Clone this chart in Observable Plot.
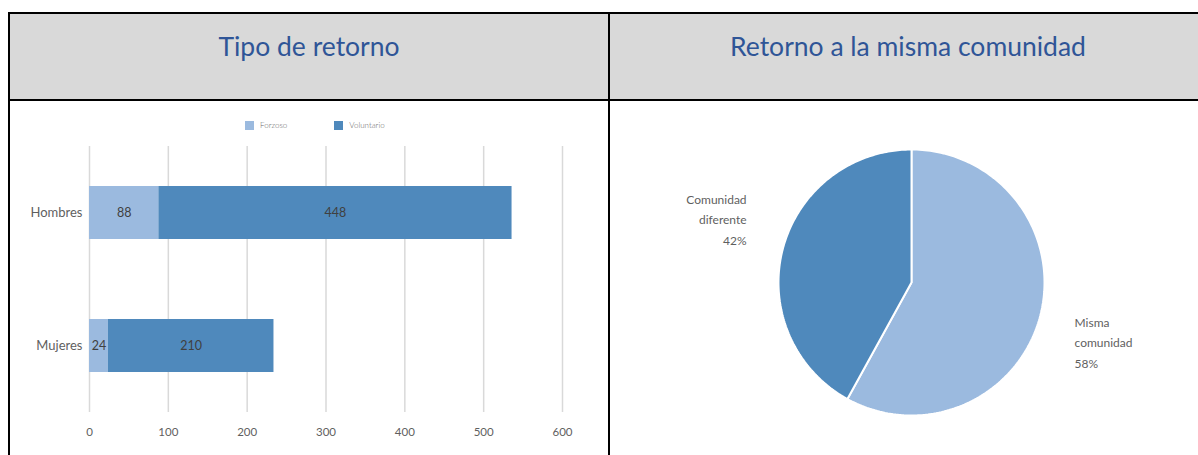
<!DOCTYPE html>
<html>
<head>
<meta charset="utf-8">
<script src="https://cdn.jsdelivr.net/npm/d3@7"></script>
<script src="https://cdn.jsdelivr.net/npm/@observablehq/plot@0.6"></script>
<style>
  body { margin: 0; background: #fff; overflow: hidden; font-family: Lato, "Open Sans", sans-serif; }
  #table { position: absolute; left: 8px; top: 12px; width: 1202px; border-top: 2px solid #000; border-left: 2px solid #000; }
  .row { display: flex; }
  .cell { width: 598px; position: relative; flex: none; }
  .cell + .cell { border-left: 2px solid #000; }
  .head { height: 85px; background: #D9D9D9; border-bottom: 2px solid #000; }
  .head .cell { text-align: center; color: #2F5597; font-size: 26.5px; line-height: 32px; padding-top: 16px; box-sizing: border-box; height: 85px; }
  .body .cell { height: 354px; }
  #legend { position: absolute; left: 235px; top: 19px; display: flex; align-items: center; font-size: 8px; color: #666; font-weight: 300; }
  #legend .sw { width: 9px; height: 9px; display: inline-block; margin-right: 6px; }
  #legend .item { display: flex; align-items: center; }
  #legend .item + .item { margin-left: 47px; }
  #barchart { position: absolute; left: 0; top: 37px; }
  #piechart { position: absolute; left: 0; top: 0; }
</style>
</head>
<body>
<div id="table">
  <div class="row head">
    <div class="cell" id="title1"></div>
    <div class="cell" id="title2"></div>
  </div>
  <div class="row body">
    <div class="cell" id="left"><div id="legend"></div><div id="barchart"></div></div>
    <div class="cell" id="right"><div id="piechart"></div></div>
  </div>
</div>
<script>
// ---- Data ----
const titles = ["Tipo de retorno", "Retorno a la misma comunidad"];
const categories = ["Hombres", "Mujeres"];
const types = ["Forzoso", "Voluntario"];
const forzoso = [88, 24];
const voluntario = [448, 210];
const xTicks = [0, 100, 200, 300, 400, 500, 600];
const pieLabels = ["Misma comunidad", "Comunidad diferente"];
const pieValues = [58, 42];

// ---- Styles ----
const colors = ["#9BBADF", "#4F89BC"];
const textGray = "#5f5f5f";

document.getElementById("title1").textContent = titles[0];
document.getElementById("title2").textContent = titles[1];

// Legend
const legend = document.getElementById("legend");
types.forEach((t, i) => {
  const item = document.createElement("div");
  item.className = "item";
  const sw = document.createElement("span");
  sw.className = "sw";
  sw.style.background = colors[i];
  item.appendChild(sw);
  item.appendChild(document.createTextNode(t));
  legend.appendChild(item);
});

// Bar chart
const rows = [];
categories.forEach((c, i) => {
  rows.push({cat: c, type: types[0], value: forzoso[i]});
  rows.push({cat: c, type: types[1], value: voluntario[i]});
});

const bar = Plot.plot({
  width: 598, height: 304,
  marginLeft: 79, marginRight: 46, marginTop: 8, marginBottom: 30,
  style: {fontFamily: "Lato, 'Open Sans', sans-serif", color: textGray, background: "transparent", overflow: "visible"},
  x: {domain: [0, 600], axis: null},
  y: {domain: categories, paddingInner: 0.6, paddingOuter: 0.3, axis: null},
  color: {domain: types, range: colors},
  marks: [
    Plot.gridX(xTicks, {stroke: "#D9D9D9", strokeOpacity: 1, strokeWidth: 1.5}),
    Plot.barX(rows, Plot.stackX({x: "value", y: "cat", z: "type", fill: "type"})),
    Plot.text(rows, Plot.stackX({x: "value", y: "cat", z: "type", text: d => String(d.value), fill: "#404040", fontSize: 12.5})),
    Plot.axisX(xTicks, {tickSize: 0, tickPadding: 15, label: null, fontSize: 11.5, fill: textGray}),
    Plot.axisY({tickSize: 0, tickPadding: 7, label: null, fontSize: 13, fill: textGray})
  ]
});
document.getElementById("barchart").appendChild(bar);

// Pie chart (polygons built from the values)
const pieRows = [];
let acc = 0;
const total = d3.sum(pieValues);
pieLabels.forEach((lab, i) => {
  const a0 = acc / total * 2 * Math.PI;
  acc += pieValues[i];
  const a1 = acc / total * 2 * Math.PI;
  pieRows.push({slice: lab, px: 0, py: 0});
  const n = 180;
  for (let k = 0; k <= n; k++) {
    const a = a0 + (a1 - a0) * k / n;
    pieRows.push({slice: lab, px: Math.sin(a), py: Math.cos(a)});
  }
  pieRows.push({slice: lab, px: 0, py: 0});
});

const labelPos = [
  {x: 1.226, y: -0.436, anchor: "start"},
  {x: -1.24, y: 0.489, anchor: "end"}
];
const pieText = pieLabels.map((lab, i) => ({
  text: lab.replace(" ", "\n") + "\n" + pieValues[i] + "%",
  x: labelPos[i].x, y: labelPos[i].y, anchor: labelPos[i].anchor
}));

const pie = Plot.plot({
  width: 598, height: 354,
  margin: 0,
  style: {fontFamily: "Lato, 'Open Sans', sans-serif", color: textGray, background: "transparent", overflow: "visible"},
  x: {domain: [-1, 1], range: [168, 434], axis: null},
  y: {domain: [-1, 1], range: [314, 48], axis: null},
  color: {domain: pieLabels, range: colors},
  marks: [
    Plot.line(pieRows, {x: "px", y: "py", z: "slice", fill: "slice", stroke: "#fff", strokeWidth: 2, strokeLinejoin: "miter"}),
    Plot.text(pieText.filter(d => d.anchor === "start"), {x: "x", y: "y", text: "text", textAnchor: "start", fontSize: 12, lineHeight: 1.71, fill: textGray}),
    Plot.text(pieText.filter(d => d.anchor === "end"), {x: "x", y: "y", text: "text", textAnchor: "end", fontSize: 12, lineHeight: 1.71, fill: textGray})
  ]
});
document.getElementById("piechart").appendChild(pie);
</script>
</body>
</html>
